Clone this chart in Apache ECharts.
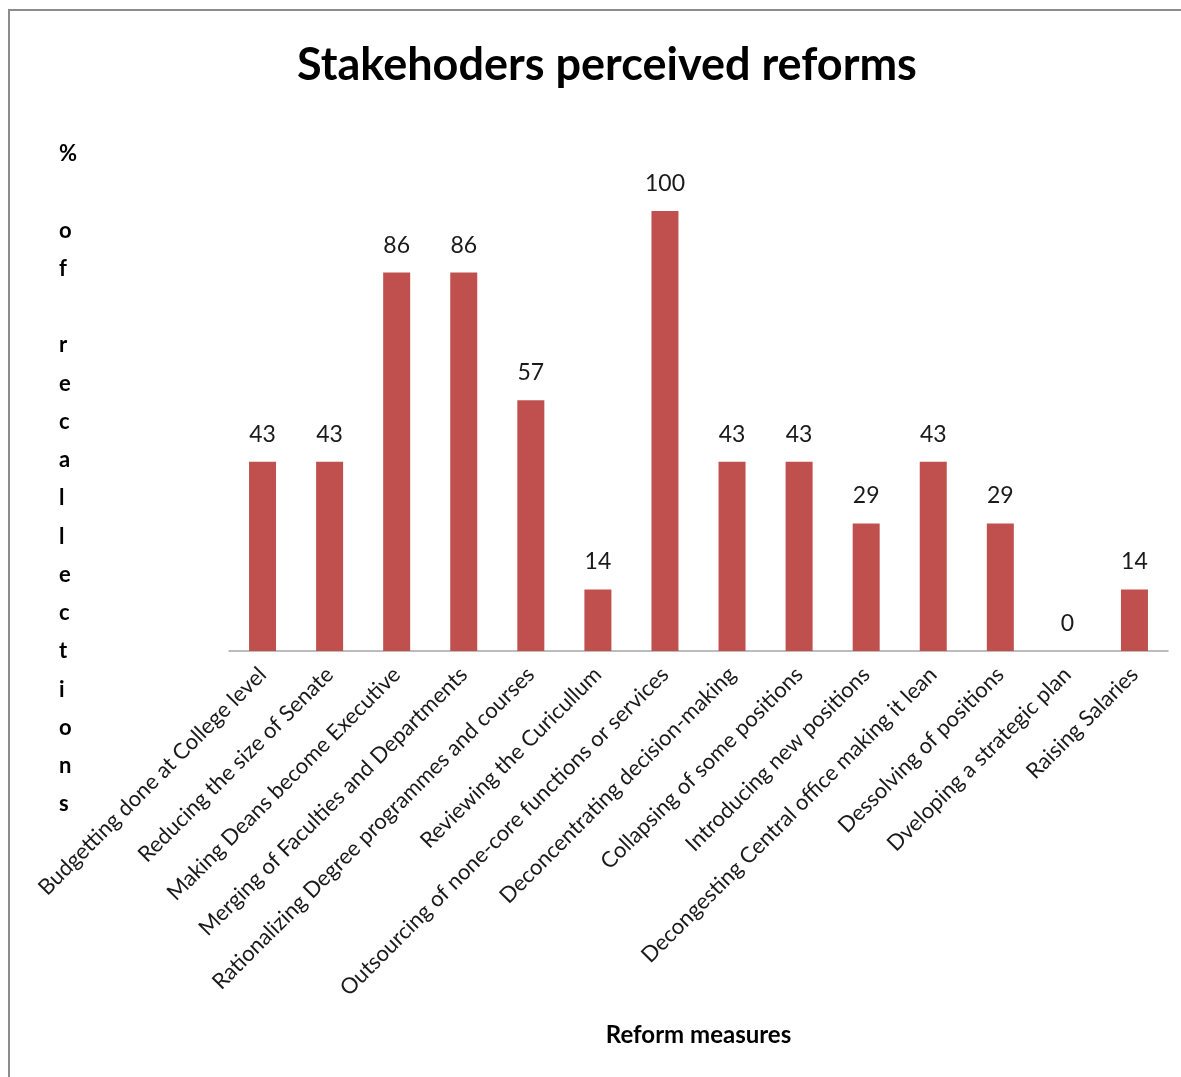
<!DOCTYPE html>
<html>
<head>
<meta charset="utf-8">
<script src="https://cdn.jsdelivr.net/npm/echarts@6/dist/echarts.min.js"></script>
<style>
html,body{margin:0;padding:0;background:#fff;}
#chart{width:1181px;height:1077px;}
</style>
</head>
<body>
<div id="chart"></div>
<script>
const categories = [
  "Budgetting done at College level",
  "Reducing the size of Senate",
  "Making Deans become Executive",
  "Merging of Faculties and Departments",
  "Rationalizing Degree programmes and courses",
  "Reviewing the Curicullum",
  "Outsourcing of none-core functions or services",
  "Deconcentrating decision-making",
  "Collapsing of some positions",
  "Introducing new positions",
  "Decongesting Central office making it lean",
  "Dessolving of positions",
  "Dveloping a strategic plan",
  "Raising Salaries"
];
const values = [43, 43, 86, 86, 57, 14, 100, 43, 43, 29, 43, 29, 0, 14];
const titleText = "Stakehoders perceived reforms";
const xAxisTitle = "Reform measures";
const yAxisTitleLines = ["%", "", "o", "f", "", "r", "e", "c", "a", "l", "l", "e", "c", "t", "i", "o", "n", "s"];

const chart = echarts.init(document.getElementById('chart'));
const FONT = "Lato";
chart.setOption({
  animation: false,
  backgroundColor: '#fff',
  title: {
    text: titleText,
    left: 292,
    top: 38,
    textStyle: { fontFamily: FONT, fontWeight: 'bold', fontSize: 45, color: '#000' }
  },
  graphic: [
    {
      type: 'rect',
      shape: { x: 9, y: 10, width: 1300, height: 1200 },
      style: { fill: 'none', stroke: '#8c8c8c', lineWidth: 2 },
      silent: true, z: -1
    },
    {
      type: 'text',
      left: 59,
      top: 135,
      style: {
        text: yAxisTitleLines.join('\n'),
        fontFamily: FONT, fontWeight: 'bold', fontSize: 22, lineHeight: 38.25,
        fill: '#000', align: 'center'
      }
    }
  ],
  grid: { left: 229, right: 13, top: 211, bottom: 426, containLabel: false },
  xAxis: {
    type: 'category',
    data: categories,
    name: xAxisTitle,
    nameLocation: 'middle',
    nameGap: 372,
    nameTextStyle: { fontFamily: FONT, fontWeight: 'bold', fontSize: 24, color: '#000' },
    axisLine: { lineStyle: { color: '#A6A6A6', width: 1.5 } },
    axisTick: { show: false },
    axisLabel: { rotate: 45, interval: 0, margin: 20, fontFamily: FONT, fontSize: 22, color: '#1a1a1a' }
  },
  yAxis: {
    type: 'value',
    min: 0, max: 100,
    show: false,
    splitLine: { show: false }
  },
  series: [{
    type: 'bar',
    data: values,
    barWidth: 27,
    itemStyle: { color: '#C0504D' },
    label: { show: true, position: 'top', distance: 16, fontFamily: FONT, fontSize: 23, color: '#1a1a1a' }
  }]
});
</script>
</body>
</html>
